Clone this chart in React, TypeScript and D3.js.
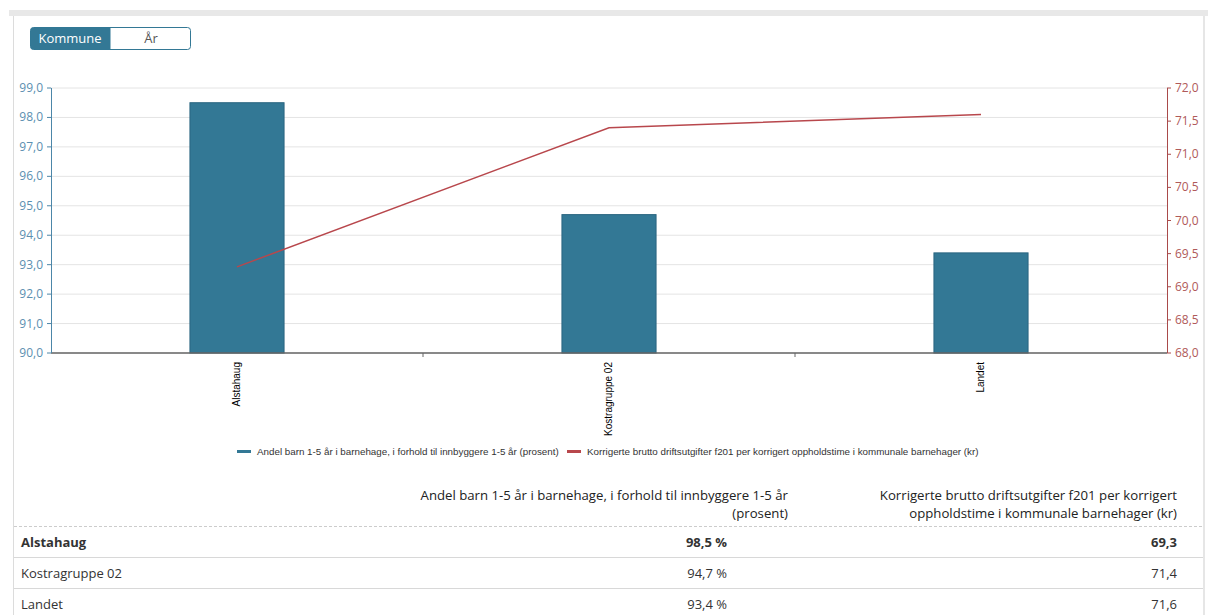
import React from "react";
import * as d3 from "d3";

const categories = ["Alstahaug", "Kostragruppe 02", "Landet"];
const barValues = [98.5, 94.7, 93.4];
const lineValues = [69.3, 71.4, 71.6];
const leftTicks = [90, 91, 92, 93, 94, 95, 96, 97, 98, 99];
const rightTicks = [68, 68.5, 69, 69.5, 70, 70.5, 71, 71.5, 72];
const barLabel = "Andel barn 1-5 år i barnehage, i forhold til innbyggere 1-5 år (prosent)";
const lineLabel = "Korrigerte brutto driftsutgifter f201 per korrigert oppholdstime i kommunale barnehager (kr)";
const tableHead1 = ["Andel barn 1-5 år i barnehage, i forhold til innbyggere 1-5 år", "(prosent)"];
const tableHead2 = ["Korrigerte brutto driftsutgifter f201 per korrigert", "oppholdstime i kommunale barnehager (kr)"];
const toggleLabels = ["Kommune", "År"];

const fmt1 = (v: number) => v.toFixed(1).replace(".", ",");

export default function App() {
  const W = 1208, H = 615;
  const x0 = 51, x1 = 1167, yTop = 88, yBot = 353;
  const x = d3.scaleBand<string>().domain(categories).range([x0, x1]).paddingInner(0).paddingOuter(0);
  const yL = d3.scaleLinear().domain([90, 99]).range([yBot, yTop]);
  const yR = d3.scaleLinear().domain([68, 72]).range([yBot, yTop]);
  const bw = x.bandwidth() * 0.253;
  const line = d3.line<number>()
    .x((_, i) => (x(categories[i]) as number) + x.bandwidth() / 2)
    .y((d) => yR(d));
  const chartFont = "'Liberation Sans', Arial, sans-serif";
  const tickFont = "'Open Sans', sans-serif";
  const blue = "#337895";
  const red = "#b8474c";
  const rowYs = [542, 573, 604];
  return (
    <svg width={W} height={H} style={{ position: "absolute", left: 0, top: 0 }}>
      <rect x={0} y={0} width={W} height={H} fill="#fff" />
      <rect x={9} y={10} width={W - 9} height={6} fill="#e8e8e8" />
      <line x1={13.5} x2={13.5} y1={16} y2={H} stroke="#dcdcdc" />
      <line x1={1204} x2={1204} y1={16} y2={H} stroke="#e6e6e6" strokeWidth={2} />

      {/* toggle */}
      <rect x={30.5} y={27.5} width={160} height={22} rx={3} fill="#fff" stroke={blue} />
      <path d="M33.5,27.5 H110.5 V49.5 H33.5 A3,3 0 0 1 30.5,46.5 V30.5 A3,3 0 0 1 33.5,27.5 Z" fill={blue} />
      <text x={70} y={43} textAnchor="middle" fontFamily={tickFont} fontSize={13} fill="#fff">{toggleLabels[0]}</text>
      <text x={151} y={43} textAnchor="middle" fontFamily={tickFont} fontSize={13} fill="#555">{toggleLabels[1]}</text>

      {/* grid */}
      {leftTicks.map((t) => (
        <line key={"g" + t} x1={x0} x2={x1} y1={yL(t)} y2={yL(t)} stroke="#e4e4e4" />
      ))}

      {/* bars */}
      {categories.map((c, i) => (
        <rect key={c} x={(x(c) as number) + x.bandwidth() / 2 - bw / 2} y={yL(barValues[i])}
          width={bw} height={yBot - yL(barValues[i])} fill={blue} stroke="#2a6580" strokeWidth={1} />
      ))}

      {/* baseline */}
      <line x1={x0} x2={x1} y1={yBot} y2={yBot} stroke="#666" strokeWidth={1.5} />
      {[1, 2].map((i) => (
        <line key={"xt" + i} x1={x0 + x.bandwidth() * i} x2={x0 + x.bandwidth() * i} y1={yBot} y2={yBot + 4} stroke="#666" />
      ))}

      {/* left axis */}
      <line x1={x0 + 0.5} x2={x0 + 0.5} y1={yTop} y2={yBot} stroke="#4c86a8" />
      {leftTicks.map((t) => (
        <g key={"l" + t}>
          <line x1={x0 - 4} x2={x0} y1={yL(t)} y2={yL(t)} stroke="#4c86a8" />
          <text x={x0 - 8} y={yL(t) + 4} textAnchor="end" fontFamily={tickFont} fontSize={12} fill="#5b8fb0">{fmt1(t)}</text>
        </g>
      ))}

      {/* right axis */}
      <line x1={x1 + 0.5} x2={x1 + 0.5} y1={yTop} y2={yBot} stroke="#a94a4a" />
      {rightTicks.map((t) => (
        <g key={"r" + t}>
          <line x1={x1} x2={x1 + 4} y1={yR(t)} y2={yR(t)} stroke="#a94a4a" />
          <text x={x1 + 8} y={yR(t) + 4} textAnchor="start" fontFamily={tickFont} fontSize={12} fill="#b05a5a">{fmt1(t)}</text>
        </g>
      ))}

      {/* line */}
      <path d={line(lineValues) || ""} fill="none" stroke={red} strokeWidth={1.5} />

      {/* x labels */}
      {categories.map((c) => {
        const cx = (x(c) as number) + x.bandwidth() / 2 + 3;
        return (
          <text key={"xl" + c} transform={`translate(${cx},362) rotate(-90)`} textAnchor="end"
            fontFamily={chartFont} fontSize={10} fill="#000">{c}</text>
        );
      })}

      {/* legend */}
      <rect x={237} y={450} width={14} height={3} fill={blue} />
      <text x={257} y={454.5} fontFamily={chartFont} fontSize={9.8} fill="#333">{barLabel}</text>
      <rect x={567} y={450} width={14} height={3} fill={red} />
      <text x={587} y={454.5} fontFamily={chartFont} fontSize={9.8} fill="#333">{lineLabel}</text>

      {/* table */}
      <g fontFamily={tickFont} fontSize={13.2} fill="#222">
        <text x={788} y={500} textAnchor="end">{tableHead1[0]}</text>
        <text x={788} y={518} textAnchor="end">{tableHead1[1]}</text>
        <text x={1177} y={500} textAnchor="end">{tableHead2[0]}</text>
        <text x={1177} y={518} textAnchor="end">{tableHead2[1]}</text>
      </g>
      <line x1={14} x2={1203} y1={526.5} y2={526.5} stroke="#ccc" strokeDasharray="3,2" />
      <line x1={14} x2={1203} y1={557.5} y2={557.5} stroke="#d8d8d8" />
      <line x1={14} x2={1203} y1={588.5} y2={588.5} stroke="#d8d8d8" />
      {categories.map((c, i) => (
        <g key={"row" + c} fontFamily={tickFont} fontSize={13} fill="#333">
          <text x={21} y={rowYs[i] + 5} fontWeight={i === 0 ? 700 : 400}>{c}</text>
          <text x={727} y={rowYs[i] + 5} textAnchor="end" fontWeight={i === 0 ? 700 : 400}>{fmt1(barValues[i]) + " %"}</text>
          <text x={1177} y={rowYs[i] + 5} textAnchor="end" fontWeight={i === 0 ? 700 : 400}>{fmt1(lineValues[i])}</text>
        </g>
      ))}
    </svg>
  );
}
